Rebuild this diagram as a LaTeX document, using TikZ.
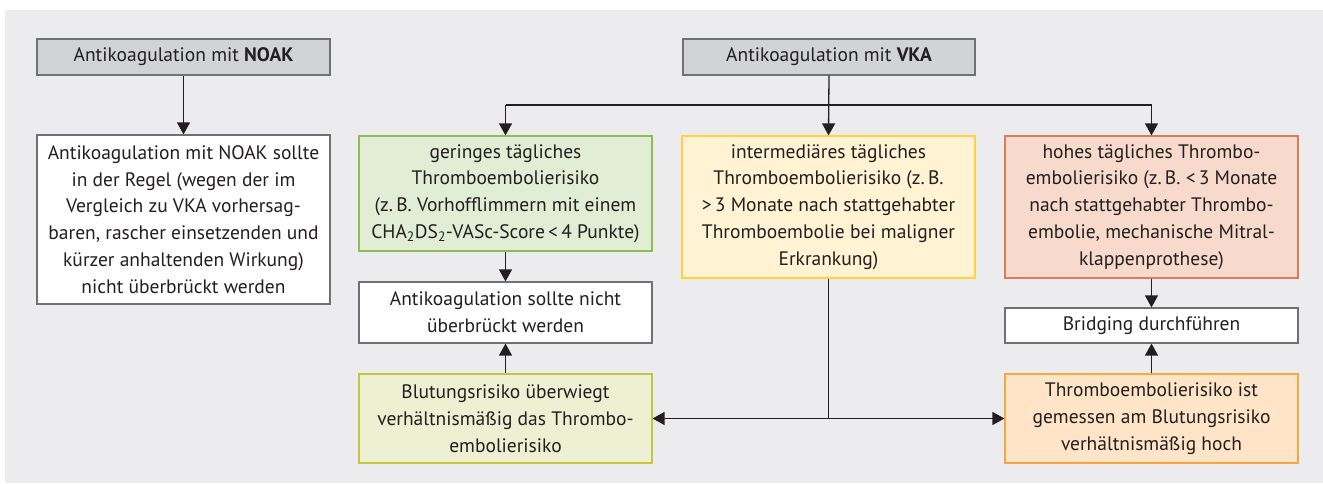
\documentclass[tikz,border=0pt]{standalone}
\usepackage{fontspec}
\setmainfont{PT Sans}
\usetikzlibrary{arrows.meta}
\definecolor{bg}{RGB}{236,236,238}
\definecolor{txt}{RGB}{35,31,32}
\definecolor{greyf}{RGB}{209,211,212}
\definecolor{greyb}{RGB}{112,113,115}
\definecolor{greenf}{RGB}{225,237,212}
\definecolor{greenb}{RGB}{140,190,85}
\definecolor{yellf}{RGB}{255,243,211}
\definecolor{yellb}{RGB}{255,210,63}
\definecolor{redf}{RGB}{247,218,203}
\definecolor{redb}{RGB}{225,120,90}
\definecolor{olivf}{RGB}{238,240,211}
\definecolor{olivb}{RGB}{197,200,60}
\definecolor{orf}{RGB}{255,228,199}
\definecolor{orb}{RGB}{247,166,64}
\begin{document}
\begin{tikzpicture}[x=1pt,y=-1pt,
  bx/.style={rectangle, inner sep=0pt, align=center, line width=1.2pt,
    text=txt, font=\fontsize{19.5}{26.8}\selectfont},
  ln/.style={draw=txt, line width=1.3pt},
  arr/.style={ln, -{Triangle[length=12pt,width=13pt]}},
  darr/.style={ln, {Triangle[length=12pt,width=13pt]}-{Triangle[length=12pt,width=13pt]}}]
\useasboundingbox (0,0) rectangle (1323,484);
\fill[white] (0,0) rectangle (1323,484);
\fill[bg] (5,10) rectangle (1323,483);

\node[bx, draw=greyb, fill=greyf, minimum width=293pt, minimum height=36pt] (noak) at (183.5,57) {Antikoagulation mit \textbf{NOAK}};
\node[bx, draw=greyb, fill=greyf, minimum width=292pt, minimum height=36pt] (vka) at (829,57) {Antikoagulation mit \textbf{VKA}};

\node[bx, draw=greyb, fill=white, minimum width=293pt, minimum height=169pt] (noakt) at (183.5,219.5) {Antikoagulation mit NOAK sollte\\in der Regel (wegen der im\\Vergleich zu VKA vorhersag-\\baren, rascher einsetzenden und\\kürzer anhaltenden Wirkung)\\nicht überbrückt werden};

\node[bx, draw=greenb, fill=greenf, minimum width=293pt, minimum height=115pt] (green) at (505.5,193.5) {geringes tägliches\\Thromboembolierisiko\\(z.\,B. Vorhofflimmern mit einem\\CHA\textsubscript{2}DS\textsubscript{2}-VASc-Score\,<\,4 Punkte)};

\node[bx, draw=yellb, fill=yellf, minimum width=293pt, minimum height=142pt] (yellow) at (828.5,207) {intermediäres tägliches\\Thromboembolierisiko (z.\,B.\\>\,3 Monate nach stattgehabter\\Thromboembolie bei maligner\\Erkrankung)};

\node[bx, draw=redb, fill=redf, minimum width=293pt, minimum height=142pt] (red) at (1151.5,207) {hohes tägliches Thrombo-\\embolierisiko (z.\,B. <\,3 Monate\\nach stattgehabter Thrombo-\\embolie, mechanische Mitral-\\klappenprothese)};

\node[bx, draw=greyb, fill=white, minimum width=293pt, minimum height=61pt] (nicht) at (505.5,312.5) {Antikoagulation sollte nicht\\überbrückt werden};

\node[bx, draw=greyb, fill=white, minimum width=293pt, minimum height=35pt] (bridg) at (1151.5,325.5) {Bridging durchführen};

\node[bx, draw=olivb, fill=olivf, minimum width=293pt, minimum height=89pt] (blut) at (505.5,418.5) {Blutungsrisiko überwiegt\\verhältnismäßig das Thrombo-\\embolierisiko};

\node[bx, draw=orb, fill=orf, minimum width=293pt, minimum height=89pt] (thromb) at (1151.5,418.5) {Thromboembolierisiko ist\\gemessen am Blutungsrisiko\\verhältnismäßig hoch};

\coordinate (hy) at (0,105);
\draw[arr] (noak.south) -- (noakt.north);
\draw[arr] (vka.south) -- (yellow.north);
\draw[ln] (green.north |- hy) -- (red.north |- hy);
\draw[arr] (green.north |- hy) -- (green.north);
\draw[arr] (red.north |- hy) -- (red.north);
\draw[arr] (green.south) -- (nicht.north);
\draw[arr] (blut.north) -- (nicht.south);
\draw[arr] (red.south) -- (bridg.north);
\draw[arr] (thromb.north) -- (bridg.south);
\draw[ln] (yellow.south) -- (yellow.south |- blut.east);
\draw[darr] (blut.east) -- (thromb.west);
\end{tikzpicture}
\end{document}
